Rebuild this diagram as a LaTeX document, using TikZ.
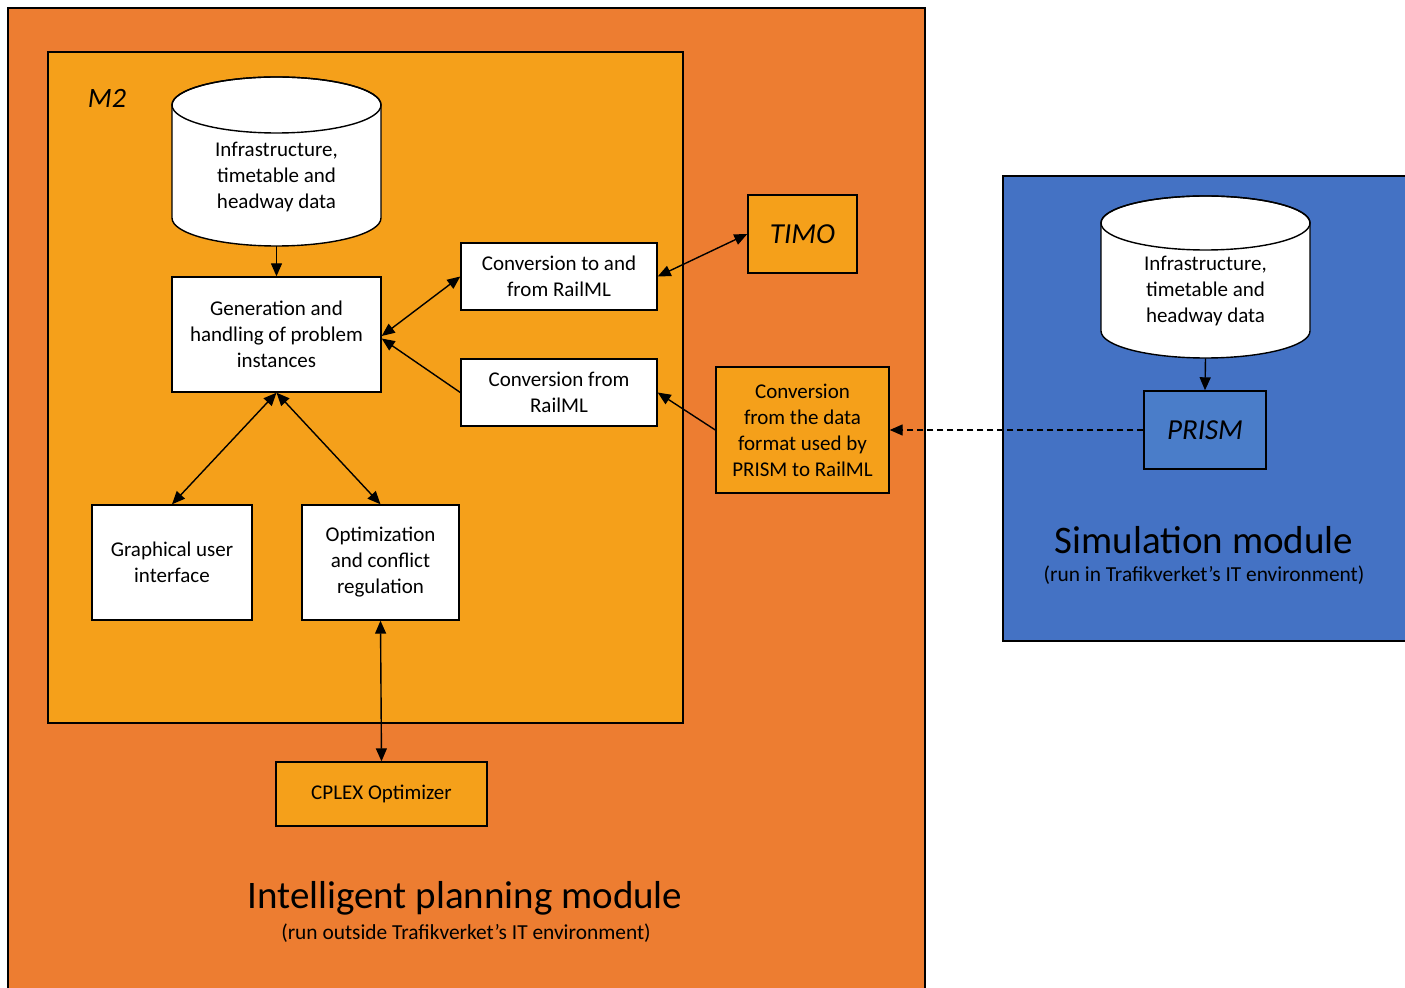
\documentclass[tikz,border=0pt]{standalone}
\usepackage{fontspec}
\setmainfont{Carlito}
\usetikzlibrary{arrows.meta}
\definecolor{outerorange}{HTML}{ED7D31}
\definecolor{innerorange}{HTML}{F5A01A}
\definecolor{simblue}{HTML}{4472C4}
\definecolor{prismblue}{HTML}{4A7DC9}
\tikzset{
  box/.style={draw, line width=0.7pt, fill=white, align=center, inner sep=0pt,
    font=\fontsize{10.5}{13}\selectfont},
  obox/.style={box, fill=innerorange},
  conn/.style={line width=0.7pt, -{Triangle[length=6.5pt,width=5.5pt]}},
  dconn/.style={line width=0.7pt, {Triangle[length=6.5pt,width=5.5pt]}-{Triangle[length=6.5pt,width=5.5pt]}},
  txt/.style={inner sep=0pt, align=center, font=\fontsize{10.5}{13}\selectfont},
}
\begin{document}
\begin{tikzpicture}[x=0.5pt,y=-0.5pt]
\useasboundingbox (0,0) rectangle (1405,988);
\fill[white] (0,0) rectangle (1405,988);
% outer orange module
\begin{scope}
\clip (0,0) rectangle (1405,988);
\draw[line width=0.7pt, fill=outerorange] (8,8) rectangle (925,1000);
\draw[line width=0.7pt, fill=simblue] (1003,176) rectangle (1420,641);
\end{scope}
% inner M2 box
\draw[line width=0.7pt, fill=innerorange] (48,52) rectangle (683,723);
\node[inner sep=0pt, font=\fontsize{14}{16}\selectfont\itshape] (m2) at (107,98) {M2};

% cylinder 1
\filldraw[line width=0.7pt, fill=white] (172,105) -- (172,218)
  arc[start angle=180, end angle=360, x radius=52.25pt, y radius=14pt]
  -- (381,105)
  arc[start angle=0, end angle=180, x radius=52.25pt, y radius=14pt] -- cycle;
\draw[line width=0.7pt] (276.5,105) ellipse[x radius=52.25pt, y radius=14pt];
\node[minimum width=104.5pt, minimum height=84.5pt, inner sep=0pt] (db1) at (276.5,161.5) {};
\node[txt] (db1t) at (276.5,177) {Infrastructure,\\timetable and\\headway data};

% cylinder 2
\filldraw[line width=0.7pt, fill=white] (1101,223) -- (1101,331)
  arc[start angle=180, end angle=360, x radius=52.25pt, y radius=13.5pt]
  -- (1310,223)
  arc[start angle=0, end angle=180, x radius=52.25pt, y radius=13.5pt] -- cycle;
\draw[line width=0.7pt] (1205.5,223) ellipse[x radius=52.25pt, y radius=13.5pt];
\node[minimum width=104.5pt, minimum height=81pt, inner sep=0pt] (db2) at (1205.5,277) {};
\node[txt] (db2t) at (1205.5,291) {Infrastructure,\\timetable and\\headway data};

% boxes
\node[box, minimum width=104.5pt, minimum height=57.5pt] (gen) at (276.5,334.5) {Generation and\\handling of problem\\instances};
\node[box, minimum width=98pt, minimum height=33.5pt] (conv1) at (559,276.5) {Conversion to and\\from RailML};
\node[box, minimum width=98pt, minimum height=33.5pt] (conv2) at (559,392.5) {Conversion from\\RailML};
\node[obox, minimum width=54.5pt, minimum height=39pt, font=\fontsize{14.5}{16}\selectfont\itshape] (timo) at (802.5,234) {TIMO};
\node[obox, minimum width=86.5pt, minimum height=63pt] (data) at (802.5,430) {Conversion\\from the data\\format used by\\PRISM to RailML};
\node[box, minimum width=80pt, minimum height=57.5pt] (gui) at (172,562.5) {Graphical user\\interface};
\node[box, minimum width=78.5pt, minimum height=57.5pt] (opt) at (380.5,562.5) {Optimization\\and conflict\\regulation};
\node[obox, minimum width=105.5pt, minimum height=32pt] (cplex) at (381.5,794) {CPLEX Optimizer};
\node[box, fill=prismblue, minimum width=61pt, minimum height=39pt, font=\fontsize{14.5}{16}\selectfont\itshape] (prism) at (1205,430) {PRISM};

% module labels
\node[inner sep=0pt, font=\fontsize{19.5}{22}\selectfont] (simt) at (1204,540) {Simulation module};
\node[inner sep=0pt, font=\fontsize{10.7}{12}\selectfont] (sims) at (1204,575) {(run in Trafikverket’s IT environment)};
\node[inner sep=0pt, font=\fontsize{19.5}{22}\selectfont] (ipmt) at (465,898) {Intelligent planning module};
\node[inner sep=0pt, font=\fontsize{10.7}{12}\selectfont] (ipms) at (466,933) {(run outside Trafikverket’s IT environment)};

% connectors
\draw[conn] (db1.south) -- (gen.north);
\draw[conn] (db2.south) -- (prism.north);
\draw[dconn] ([yshift=-0.75pt]gen.east) -- (conv1.west);
\draw[conn] (conv2.west) -- ([yshift=-2pt]gen.east);
\draw[dconn] (conv1.east) -- (timo.west);
\draw[conn] (data.west) -- (conv2.east);
\draw[conn, dash pattern=on 3pt off 2pt] (prism.west) -- (data.east);
\draw[dconn] (gen.south) -- (gui.north);
\draw[dconn] (gen.south) -- (opt.north);
\draw[dconn] (opt.south) -- (cplex.north);
\end{tikzpicture}
\end{document}
